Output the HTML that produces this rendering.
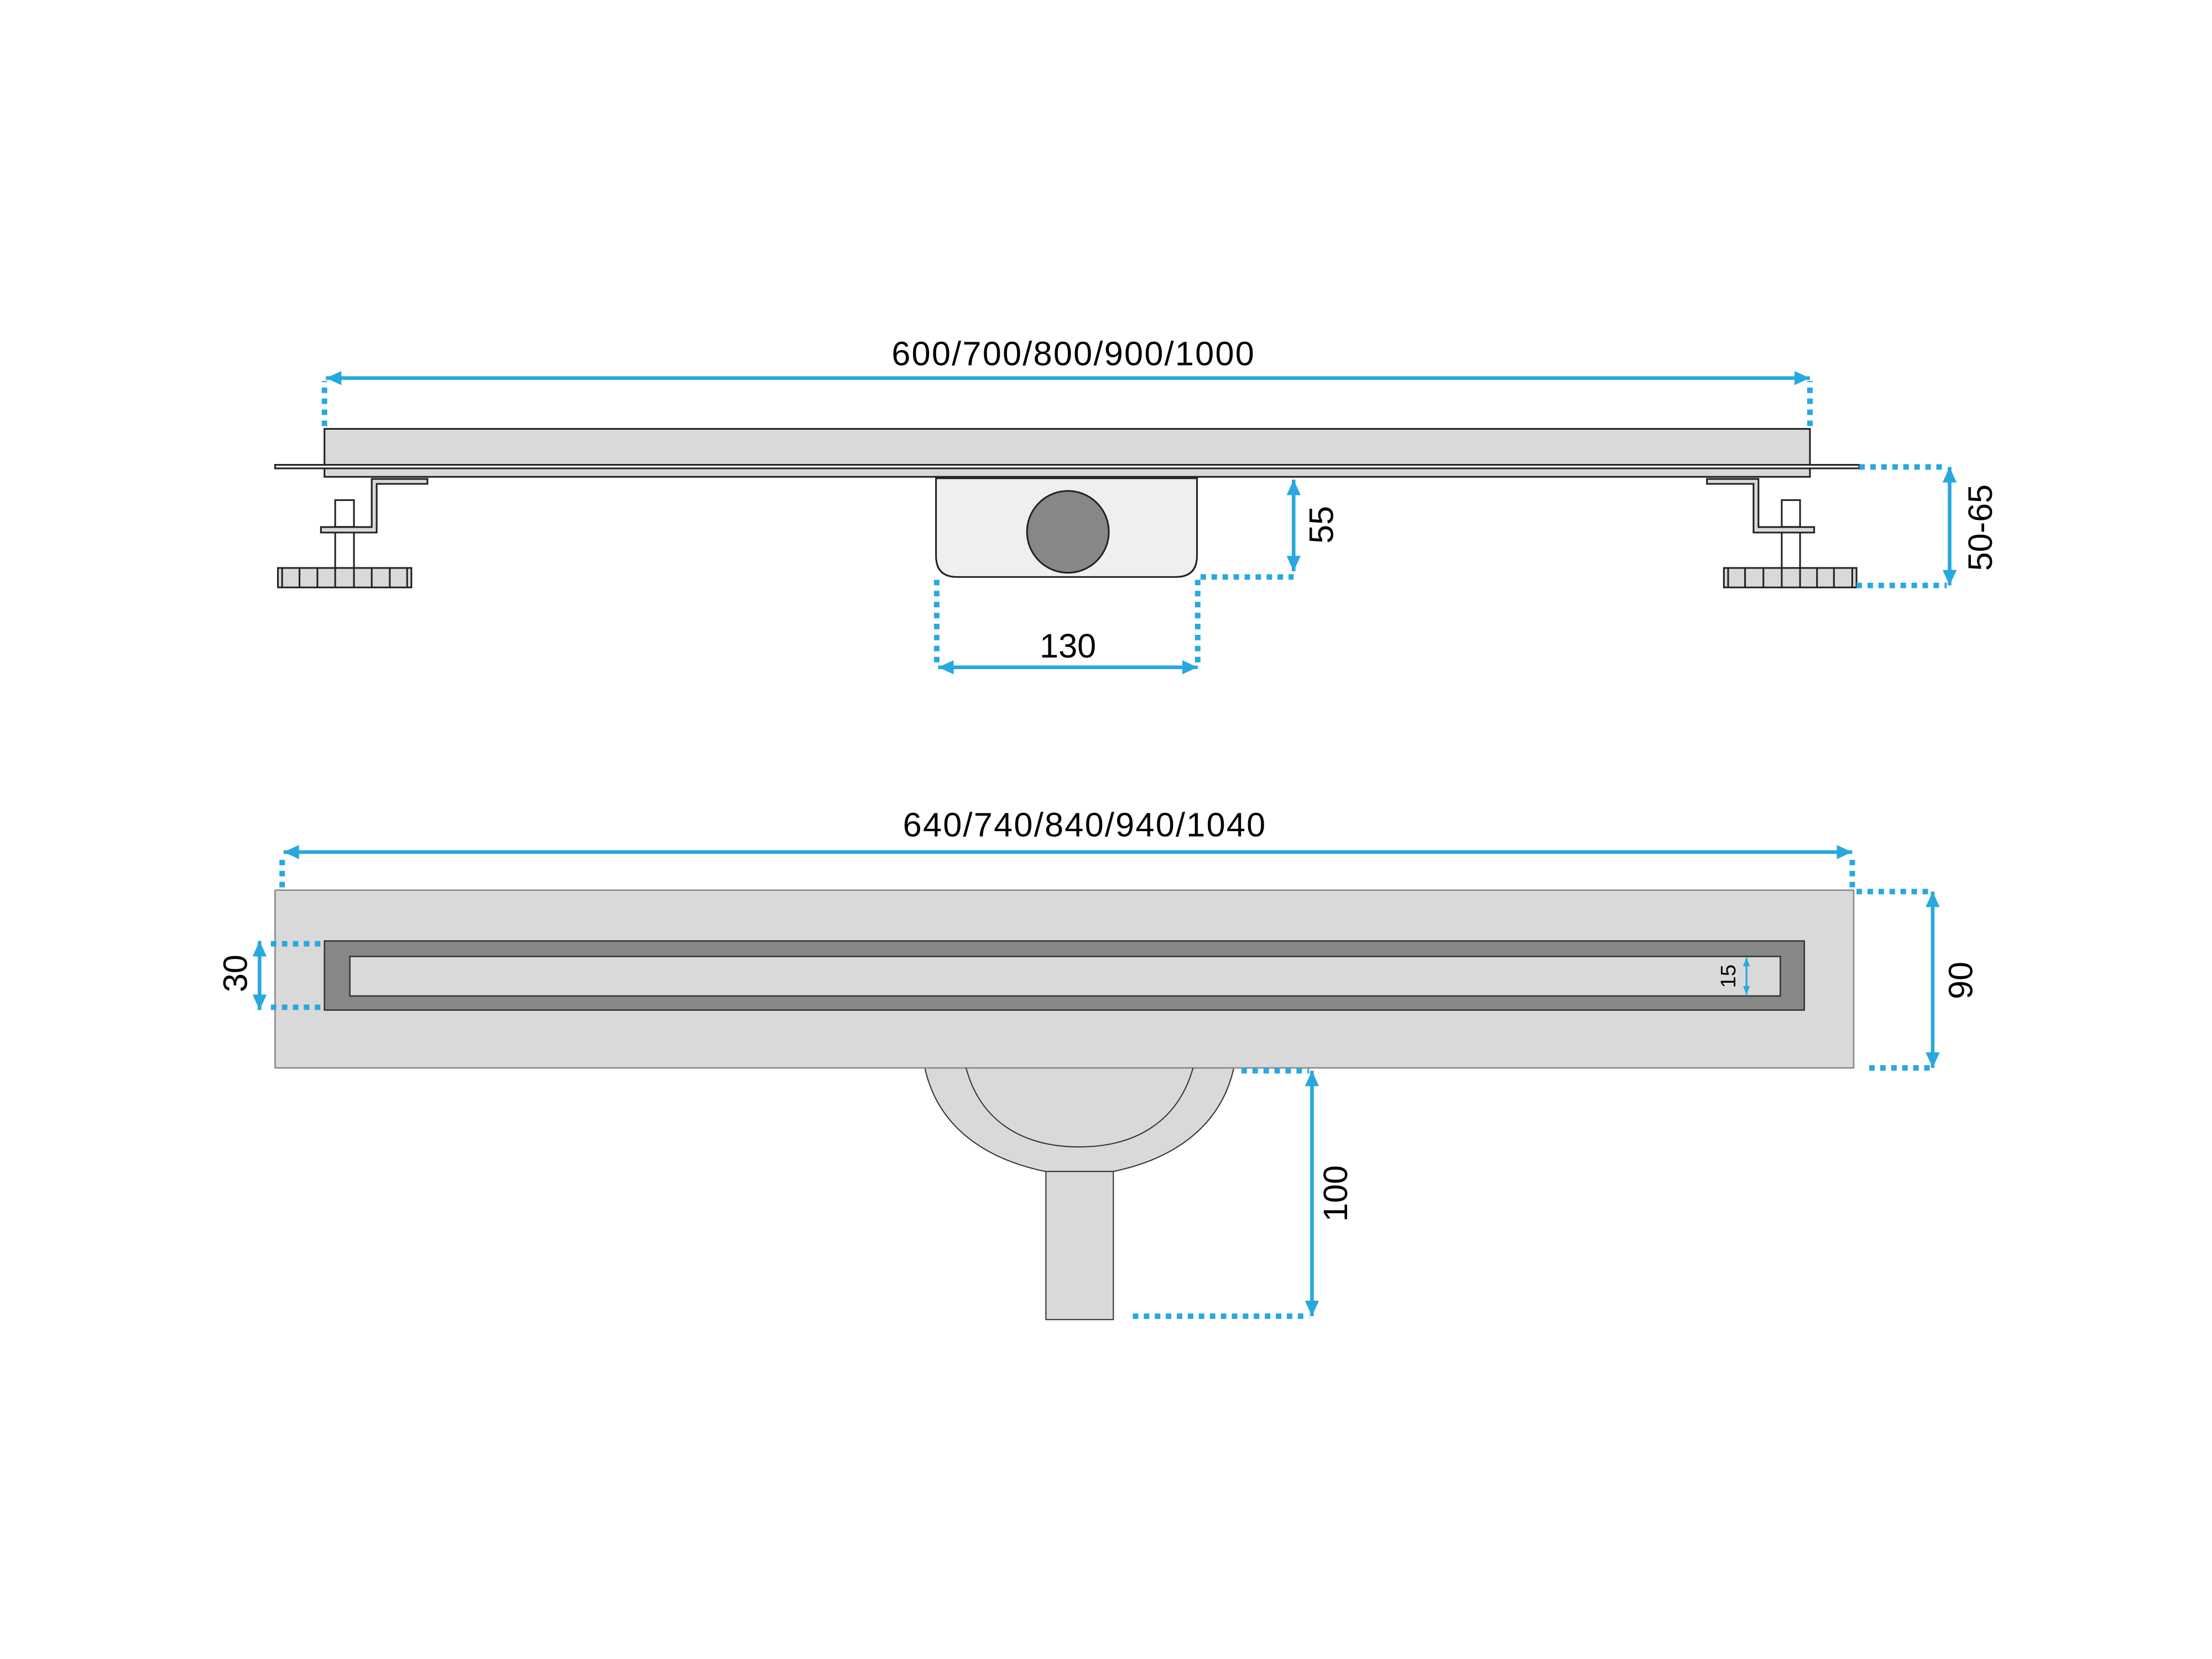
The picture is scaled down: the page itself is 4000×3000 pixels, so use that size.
<!DOCTYPE html>
<html><head><meta charset="utf-8"><style>html,body{margin:0;padding:0;background:#fff}svg{display:block}</style></head>
<body>
<svg width="4000" height="3000" viewBox="0 0 1568 1176" xmlns="http://www.w3.org/2000/svg">
<defs>
<marker id="ah" viewBox="0 0 11 10" refX="11" refY="5" markerWidth="11" markerHeight="10" markerUnits="userSpaceOnUse" orient="auto-start-reverse">
<path d="M0 0 L11 5 L0 10 Z" fill="#29a8e0"/></marker>
<marker id="ahs" viewBox="0 0 6 5" refX="6" refY="2.5" markerWidth="6" markerHeight="5" markerUnits="userSpaceOnUse" orient="auto-start-reverse">
<path d="M0 0 L6 2.5 L0 5 Z" fill="#29a8e0"/></marker>
</defs>
<rect width="1568" height="1176" fill="#fff"/>
<g font-family="Liberation Sans, sans-serif" fill="#000">
<!-- TOP VIEW -->
<g stroke="#222" stroke-width="1.2" fill="#d9d9d9">
<rect x="230" y="304" width="1053" height="26"/>
<rect x="230" y="332" width="1053" height="6"/>
<rect x="195" y="329.5" width="1123" height="2.5" fill="#fff"/>
<!-- left bracket -->
<path d="M263.5 339.5 H303 V343 H267 V377.5 H227.5 V373.6 H263.5 Z"/>
<rect x="237.6" y="354.5" width="13.3" height="19" fill="#fff"/>
<line x1="237.6" y1="377.5" x2="237.6" y2="402.6"/><line x1="250.9" y1="377.5" x2="250.9" y2="402.6"/>
<rect x="197" y="402.6" width="94.6" height="13.8"/>
<path d="M200 402.6V416.4M212.3 402.6V416.4M225 402.6V416.4M237.6 402.6V416.4M250.9 402.6V416.4M263.5 402.6V416.4M276.3 402.6V416.4M288.6 402.6V416.4" fill="none"/>
<!-- right bracket -->
<path d="M1246.5 339.5 H1210 V343 H1243 V377.5 H1286 V373.6 H1246.5 Z"/>
<rect x="1263" y="354.5" width="13" height="19" fill="#fff"/>
<line x1="1263" y1="377.5" x2="1263" y2="402.6"/><line x1="1276" y1="377.5" x2="1276" y2="402.6"/>
<rect x="1222" y="402.6" width="94" height="13.8"/>
<path d="M1225 402.6V416.4M1237 402.6V416.4M1250 402.6V416.4M1263 402.6V416.4M1276 402.6V416.4M1288 402.6V416.4M1300 402.6V416.4M1313 402.6V416.4" fill="none"/>
<!-- center box -->
<path d="M663.5 339 H848.5 V394 Q848.5 409 833.5 409 H678.5 Q663.5 409 663.5 394 Z" fill="#efefef"/>
<circle cx="757" cy="377" r="29" fill="#878787"/>
</g>
<g stroke="#29a8e0" fill="none">
<g stroke-width="3.9" stroke-dasharray="3.9 3.9">
<path d="M230 302 V270 M1283 302 V270"/>
<path d="M851 409 H917"/>
<path d="M664 411 V470 M849 411 V470"/>
<path d="M1318 331 H1380 M1316 415 H1380"/>
</g>
<g stroke-width="2.6">
<line x1="231" y1="268" x2="1283" y2="268" marker-start="url(#ah)" marker-end="url(#ah)"/>
<line x1="917" y1="340" x2="917" y2="405" marker-start="url(#ah)" marker-end="url(#ah)"/>
<line x1="665" y1="473" x2="849" y2="473" marker-start="url(#ah)" marker-end="url(#ah)"/>
<line x1="1382" y1="331" x2="1382" y2="415" marker-start="url(#ah)" marker-end="url(#ah)"/>
</g>
</g>
<text x="632" y="259" font-size="24" textLength="257">600/700/800/900/1000</text>
<text x="757" y="466" font-size="24" text-anchor="middle">130</text>
<text transform="translate(945 372) rotate(-90)" font-size="24" text-anchor="middle">55</text>
<text transform="translate(1412 374) rotate(-90)" font-size="24" text-anchor="middle">50-65</text>

<!-- BOTTOM VIEW -->
<g stroke="#555" stroke-width="1">
<path d="M655.6 757 C665 800 700 822 741 830.4 H789.2 C830 822 865 800 874.6 757 Z" fill="#d9d9d9" stroke="#333" stroke-width="0.8"/>
<rect x="741.4" y="830.4" width="47.8" height="105" fill="#d9d9d9" stroke="#333" stroke-width="0.8"/>
<rect x="195" y="631" width="1119" height="126" fill="#d9d9d9" stroke="#888"/>
<path d="M684.8 757 C695 795 725 813 765 813 C805 813 835 795 845.7 757" fill="none" stroke="#333" stroke-width="0.8"/>
<rect x="230" y="667" width="1049" height="49" fill="#878787" stroke="#333"/>
<rect x="248" y="678" width="1014" height="28" fill="#d9d9d9" stroke="#333"/>
</g>
<g stroke="#29a8e0" fill="none">
<g stroke-width="3.9" stroke-dasharray="3.9 3.9">
<path d="M200 629 V608 M1313 629 V608"/>
<path d="M192 669 H230 M192 714 H230"/>
<path d="M1316 632 H1368 M1325 757 H1368"/>
<path d="M880 759 H928 M803 933 H928"/>
</g>
<g stroke-width="2.6">
<line x1="201" y1="604" x2="1313" y2="604" marker-start="url(#ah)" marker-end="url(#ah)"/>
<line x1="184" y1="667" x2="184" y2="716" marker-start="url(#ah)" marker-end="url(#ah)"/>
<line x1="1370" y1="632" x2="1370" y2="757" marker-start="url(#ah)" marker-end="url(#ah)"/>
<line x1="930" y1="759" x2="930" y2="933" marker-start="url(#ah)" marker-end="url(#ah)"/>
</g>
<line x1="1238" y1="679" x2="1238" y2="705" stroke-width="1.3" marker-start="url(#ahs)" marker-end="url(#ahs)"/>
</g>
<text x="640" y="593" font-size="24" textLength="257">640/740/840/940/1040</text>
<text transform="translate(175 690) rotate(-90)" font-size="24" text-anchor="middle">30</text>
<text transform="translate(1398 695) rotate(-90)" font-size="24" text-anchor="middle">90</text>
<text transform="translate(955 846) rotate(-90)" font-size="24" text-anchor="middle">100</text>
<text transform="translate(1230 692) rotate(-90)" font-size="15" text-anchor="middle">15</text>
</g>
</svg>
</body></html>
